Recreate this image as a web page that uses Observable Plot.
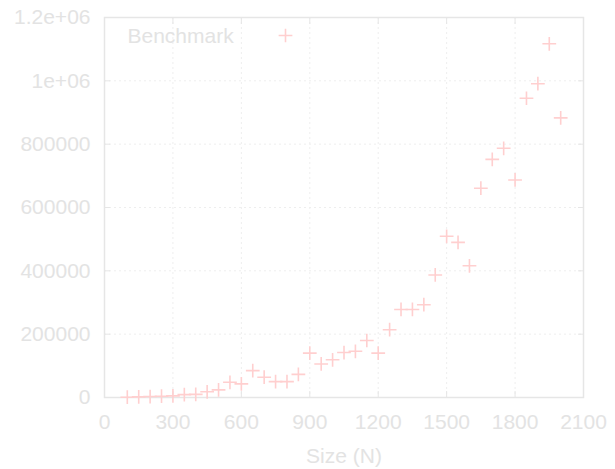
<!DOCTYPE html>
<html>
<head>
<meta charset="utf-8">
<script src="https://cdn.jsdelivr.net/npm/d3@7"></script>
<script src="https://cdn.jsdelivr.net/npm/@observablehq/plot@0.6"></script>
<style>
  html, body { margin: 0; padding: 0; background: #fff; }
  #chart svg { display: block; }
</style>
</head>
<body>
<div id="chart"></div>
<script>
const sizes = [100,150,200,250,300,350,400,450,500,550,600,650,700,750,800,850,900,950,1000,1050,1100,1150,1200,1250,1300,1350,1400,1450,1500,1550,1600,1650,1700,1750,1800,1850,1900,1950,2000];
const times = [1000,2000,3000,4000,5000,9000,10000,18000,24000,48000,43000,85000,64000,50000,50000,73000,140000,106000,119000,142000,146000,180000,140000,214000,278000,278000,293000,387000,509000,490000,416000,661000,752000,787000,687000,945000,991000,1117000,883000];
const xTicks = [0,300,600,900,1200,1500,1800,2100];
const yTicks = [0,200000,400000,600000,800000,1000000,1200000];
const yTickLabels = ["0","200000","400000","600000","800000","1e+06","1.2e+06"];
const seriesName = "Benchmark";
const xLabel = "Size (N)";

const data = sizes.map((s, i) => ({size: s, time: times[i]}));
const textColor = "#e3e3e3";
const frameColor = "#e6e6e6";
const gridColor = "#eeeeee";
const pointColor = "#ffcfcf";
const fs = 21;

const chart = Plot.plot({
  width: 615,
  height: 469,
  marginLeft: 104,
  marginRight: 32,
  marginTop: 17,
  marginBottom: 72,
  style: {fontFamily: "'Liberation Sans', Arial, sans-serif", fontSize: fs + "px", color: textColor, background: "#fff"},
  x: {domain: [0, 2100]},
  y: {domain: [0, 1200000]},
  marks: [
    Plot.gridX(xTicks, {stroke: gridColor, strokeOpacity: 1, strokeDasharray: "2,3"}),
    Plot.gridY(yTicks, {stroke: gridColor, strokeOpacity: 1, strokeDasharray: "2,3"}),
    Plot.frame({stroke: frameColor, strokeWidth: 1.5}),
    Plot.axisX(xTicks, {tickSize: 0, tickPadding: 17, fill: textColor, fontSize: fs, tickFormat: d => String(d), label: null}),
    Plot.axisX(xTicks, {anchor: "bottom", tickSize: -6, stroke: frameColor, text: null, label: null}),
    Plot.axisX(xTicks, {anchor: "top", tickSize: -6, stroke: frameColor, text: null, label: null}),
    Plot.axisY(yTicks, {tickSize: 0, tickPadding: 14, fill: textColor, fontSize: fs, tickFormat: (d, i) => yTickLabels[i], label: null}),
    Plot.axisY(yTicks, {anchor: "left", tickSize: -6, stroke: frameColor, text: null, label: null}),
    Plot.axisY(yTicks, {anchor: "right", tickSize: -6, stroke: frameColor, text: null, label: null}),
    Plot.text([xLabel], {frameAnchor: "bottom", lineAnchor: "middle", dy: 59, fill: textColor, fontSize: fs}),
    Plot.dot(data, {x: "size", y: "time", symbol: "plus", r: 4.5, stroke: pointColor, strokeWidth: 1.6}),
    Plot.text([seriesName], {frameAnchor: "top-left", lineAnchor: "middle", dx: 23, dy: 19, textAnchor: "start", fill: textColor, fontSize: fs}),
    Plot.dot([seriesName], {frameAnchor: "top-left", dx: 181, dy: 18, symbol: "plus", r: 4.5, stroke: pointColor, strokeWidth: 1.6})
  ]
});
document.getElementById("chart").appendChild(chart);
</script>
</body>
</html>
